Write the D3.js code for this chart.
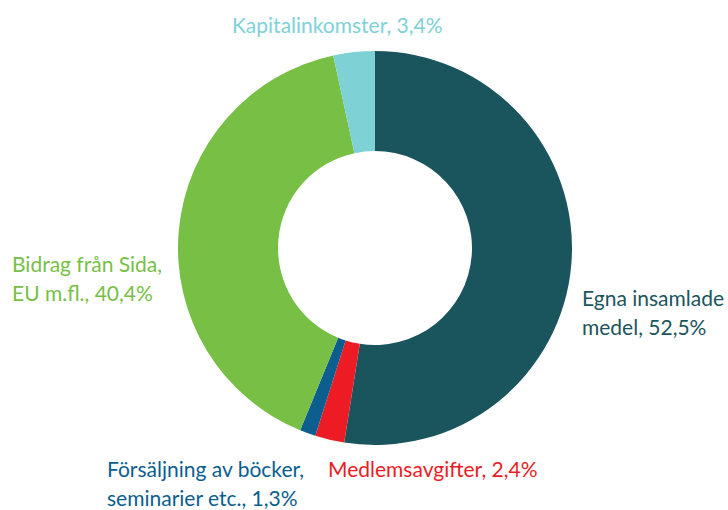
<!DOCTYPE html>
<html>
<head>
<meta charset="utf-8">
<script src="https://cdn.jsdelivr.net/npm/d3@7"></script>
<style>
  body { margin: 0; background: #fff; }
  text { font-family: "Lato", "Open Sans", sans-serif; }
</style>
</head>
<body>
<script>
// data
const categories = ["Egna insamlade medel", "Medlemsavgifter", "Försäljning av böcker, seminarier etc.", "Bidrag från Sida, EU m.fl.", "Kapitalinkomster"]
const shares = [52.5, 2.4, 1.3, 40.4, 3.4]
const labelLines = [
    ["Egna insamlade", "medel, 52,5%"],
    ["Medlemsavgifter, 2,4%"],
    ["Försäljning av böcker,", "seminarier etc., 1,3%"],
    ["Bidrag från Sida,", "EU m.fl., 40,4%"],
    ["Kapitalinkomster, 3,4%"]
]
const colors = ["#1a555d", "#ed1c24", "#0b5e8e", "#77bf45", "#7ed2d5"]

const width = 728, height = 510
const cx = 375, cy = 248
const outerR = 197, innerR = 97

// where each label block starts (x, first baseline), by slice
const labelPos = [[582, 306], [328, 477], [107, 477], [12, 272], [232, 33]]
const lineGap = 29

const svg = d3.select("body").append("svg")
    .attr("width", width)
    .attr("height", height)

const pie = d3.pie().sort(null).value(d => d)
const arc = d3.arc().innerRadius(innerR).outerRadius(outerR)

const g = svg.append("g").attr("transform", `translate(${cx},${cy})`)
g.selectAll("path")
    .data(pie(shares))
    .join("path")
    .attr("d", arc)
    .attr("fill", (d, i) => colors[i])

// labels
labelLines.forEach(function(lines, i){
    const t = svg.append("text")
        .attr("x", labelPos[i][0])
        .attr("y", labelPos[i][1])
        .attr("fill", colors[i])
        .style("font-size", "21px")
    lines.forEach(function(l, j){
        t.append("tspan")
            .attr("x", labelPos[i][0])
            .attr("dy", j == 0 ? 0 : lineGap)
            .text(l)
    })
})
</script>
</body>
</html>
